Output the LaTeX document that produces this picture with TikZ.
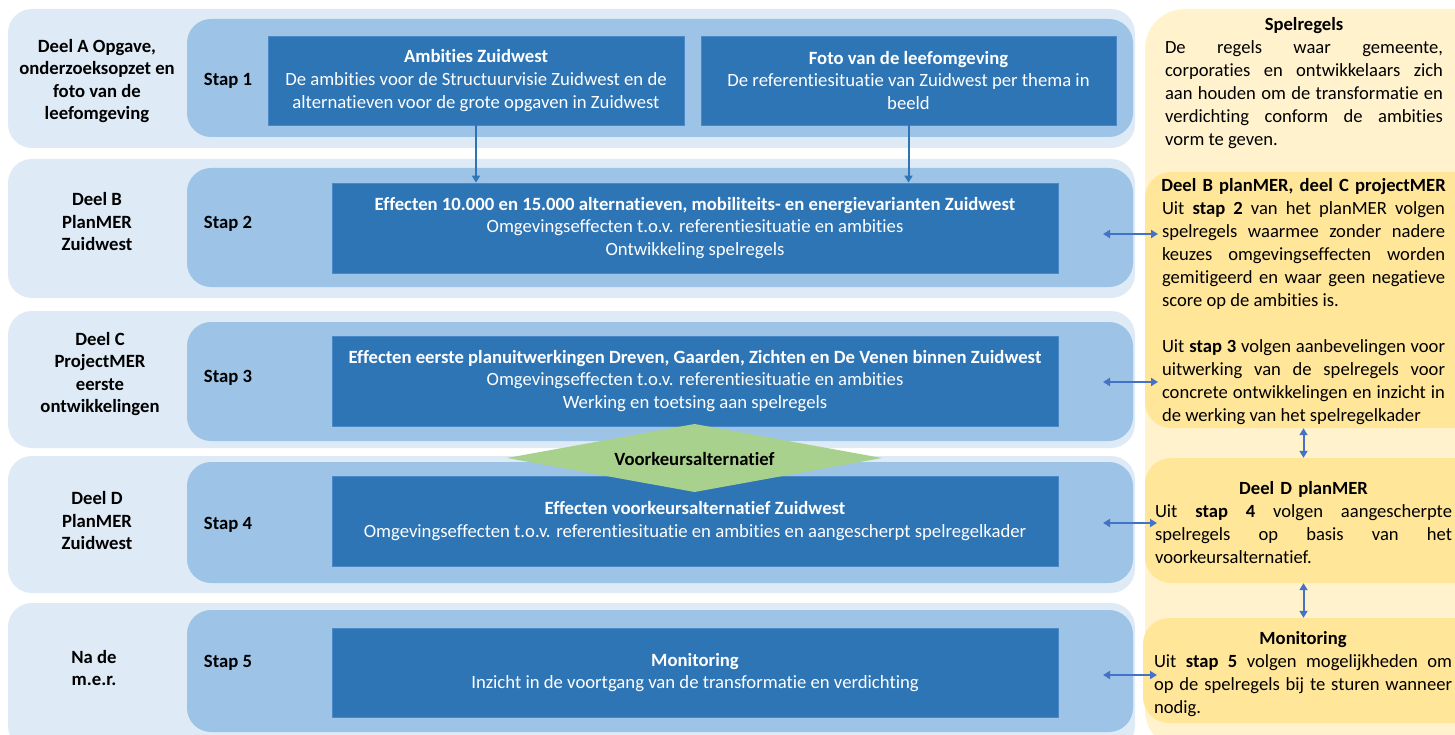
\documentclass[tikz,border=0pt]{standalone}
\usepackage{fontspec}
\setmainfont{Carlito}[Ligatures=NoCommon]
\usetikzlibrary{arrows.meta}
\definecolor{outerblue}{HTML}{DEEBF7}
\definecolor{innerblue}{HTML}{9DC3E6}
\definecolor{darkblue}{HTML}{2E75B6}
\definecolor{darkedge}{HTML}{4A88C6}
\definecolor{lightyellow}{HTML}{FFF2CC}
\definecolor{deepyellow}{HTML}{FFE699}
\definecolor{diamondgreen}{HTML}{A9D18E}
\definecolor{arrowblue}{HTML}{4472C4}
\newcommand\jline[2]{\hbox to #1{\spaceskip=0pt\xspaceskip=0pt #2}}
\newcommand\lline[2]{\hbox to #1{\spaceskip=0pt\xspaceskip=0pt #2\hfil}}
\newcommand\centline[2]{\hbox to #1{\hss #2\hss}}
\begin{document}
\begin{tikzpicture}[x=1pt,y=-1pt,
  outerrow/.style={fill=outerblue, rounded corners=24pt},
  innerrow/.style={fill=innerblue, rounded corners=24pt},
  darkbox/.style={fill=darkblue, draw=darkedge, line width=0.8pt, text=white, align=center,
     font=\fontsize{18.7}{22.7}\selectfont, inner sep=0pt},
  partlabel/.style={align=center, font=\fontsize{18.7}{22.5}\selectfont\bfseries, inner sep=0pt},
  steplabel/.style={font=\fontsize{18.7}{20}\selectfont\bfseries, inner sep=0pt},
  ybox/.style={fill=deepyellow, rounded corners=26pt, inner sep=0pt},
  ytext/.style={align=center, font=\fontsize{18.6}{23}\selectfont, inner sep=0pt},
  varrow/.style={draw=darkblue, line width=2pt, -{Triangle[width=8pt,length=7pt]}},
  darrow/.style={draw=arrowblue, line width=2pt, {Triangle[width=8pt,length=7pt]}-{Triangle[width=8pt,length=7pt]}}
]
\useasboundingbox (0,0) rectangle (1455,735);
\clip (0,0) rectangle (1455,735);
\fill[white] (0,0) rectangle (1455,735);

% rows
\fill[outerrow] (8,9) rectangle (1135,148);
\fill[innerrow] (187,19) rectangle (1133,137);
\fill[outerrow] (8,159) rectangle (1135,298);
\fill[innerrow] (187,168) rectangle (1133,287);
\fill[outerrow] (8,311) rectangle (1135,448);
\fill[innerrow] (187,322) rectangle (1133,441);
\fill[outerrow] (8,456) rectangle (1135,593);
\fill[innerrow] (187,462) rectangle (1133,583);
\fill[outerrow] (8,603) rectangle (1135,750);
\fill[innerrow] (187,610) rectangle (1133,732);

% right column
\fill[lightyellow, rounded corners=40pt] (1145,9) rectangle (1520,750);
\node[ybox, minimum width=355pt, minimum height=256pt] (ydB) at (1322.5,300) {};
\node[ybox, minimum width=355pt, minimum height=125pt] (ydD) at (1322.5,520.5) {};
\node[ybox, minimum width=357pt, minimum height=105pt] (ydM) at (1321.5,670.5) {};

% left labels
\node[partlabel] (pA) at (97,81) {Deel A Opgave,\\onderzoeksopzet en\\foto van de\\leefomgeving};
\node[partlabel] (pB) at (97,222) {Deel B\\PlanMER\\Zuidwest};
\node[partlabel] (pC) at (100,374) {Deel C\\ProjectMER\\eerste\\ontwikkelingen};
\node[partlabel] (pD) at (97,521) {Deel D\\PlanMER\\Zuidwest};
\node[partlabel] (pE) at (94,668) {Na de\\m.e.r.};

% step labels
\node[steplabel] (s1) at (228,80.5) {Stap 1};
\node[steplabel] (s2) at (228,223.5) {Stap 2};
\node[steplabel] (s3) at (228,377.5) {Stap 3};
\node[steplabel] (s4) at (228,524.5) {Stap 4};
\node[steplabel] (s5) at (228,662.5) {Stap 5};

% dark boxes
\node[darkbox, minimum width=416pt, minimum height=89pt] (amb) at (476,80.5)
  {\textbf{Ambities Zuidwest}\\De ambities voor de Structuurvisie Zuidwest en de\\alternatieven voor de grote opgaven in Zuidwest};
\node[darkbox, minimum width=415pt, minimum height=89pt] (foto) at (908.5,80.5)
  {\textbf{Foto van de leefomgeving}\\De referentiesituatie van Zuidwest per thema in\\beeld};
\node[darkbox, minimum width=726pt, minimum height=90pt] (eff2) at (695,228)
  {\textbf{Effecten 10.000 en 15.000 alternatieven, mobiliteits- en energievarianten Zuidwest}\\Omgevingseffecten t.o.v. referentiesituatie en ambities\\Ontwikkeling spelregels};
\node[darkbox, minimum width=726pt, minimum height=90pt] (eff3) at (695,381)
  {\textbf{Effecten eerste planuitwerkingen Dreven, Gaarden, Zichten en De Venen binnen Zuidwest}\\Omgevingseffecten t.o.v. referentiesituatie en ambities\\Werking en toetsing aan spelregels};
\node[darkbox, minimum width=726pt, minimum height=90pt] (eff4) at (695,521)
  {\textbf{Effecten voorkeursalternatief Zuidwest}\\Omgevingseffecten t.o.v. referentiesituatie en ambities en aangescherpt spelregelkader};
\node[darkbox, minimum width=726pt, minimum height=89pt] (mon) at (695,672.5)
  {\textbf{Monitoring}\\Inzicht in de voortgang van de transformatie en verdichting};

% diamond
\fill[diamondgreen] (507,458) -- (694.5,424) -- (882,458) -- (694.5,492) -- cycle;
\node[font=\fontsize{18.7}{20}\selectfont\bfseries, inner sep=0pt] (vka) at (694.5,459) {Voorkeursalternatief};

% arrows from step 1 to step 2
\draw[varrow] (amb.south) -- (amb.south |- eff2.north);
\draw[varrow] (foto.south) -- (foto.south |- eff2.north);

% right texts
\node[ytext, text width=278pt] (tS) at (1304,83.5) {%
  \centline{278pt}{\textbf{Spelregels}}
  \jline{278pt}{De regels waar gemeente,}
  \jline{278pt}{corporaties en ontwikkelaars zich}
  \jline{278pt}{aan houden om de transformatie en}
  \jline{278pt}{verdichting conform de ambities}
  \lline{278pt}{vorm te geven.}};
\node[ytext, text width=283pt] (tB) at (1303.5,302) {%
  \centline{283pt}{\textbf{Deel B planMER, deel C projectMER}}
  \jline{283pt}{Uit \textbf{stap 2} van het planMER volgen}
  \jline{283pt}{spelregels waarmee zonder nadere}
  \jline{283pt}{keuzes omgevingseffecten worden}
  \jline{283pt}{gemitigeerd en waar geen negatieve}
  \lline{283pt}{score op de ambities is.}
  \lline{283pt}{\strut}
  \jline{283pt}{Uit \textbf{stap 3} volgen aanbevelingen voor}
  \jline{283pt}{uitwerking van de spelregels voor}
  \jline{283pt}{concrete ontwikkelingen en inzicht in}
  \lline{283pt}{de werking van het spelregelkader}};
\node[ytext, text width=297pt] (tD) at (1303.5,522.5) {%
  \centline{297pt}{\textbf{Deel D planMER}}
  \jline{297pt}{Uit \textbf{stap 4} volgen aangescherpte}
  \jline{297pt}{spelregels op basis van het}
  \lline{297pt}{voorkeursalternatief.}};
\node[ytext, text width=298pt] (tM) at (1303,674) {%
  \centline{298pt}{\textbf{Monitoring}}
  \jline{298pt}{Uit \textbf{stap 5} volgen mogelijkheden om}
  \jline{298pt}{op de spelregels bij te sturen wanneer}
  \lline{298pt}{nodig.}};

% double arrows
\coordinate (a2l) at (1103,234);
\coordinate (a2r) at (1158,234);
\coordinate (a3l) at (1103,382);
\coordinate (a3r) at (1158,382);
\coordinate (a4l) at (1103,523);
\coordinate (a4r) at (1157,523);
\coordinate (a5l) at (1103,675);
\coordinate (a5r) at (1157,675);
\draw[darrow] (a2l) -- (a2r);
\draw[darrow] (a3l) -- (a3r);
\draw[darrow] (a4l) -- (a4r);
\draw[darrow] (a5l) -- (a5r);
\draw[darrow] (ydB.south -| tB.center) -- (ydD.north -| tB.center);
\draw[darrow] (ydD.south -| tB.center) -- (ydM.north -| tB.center);
\end{tikzpicture}
\end{document}
